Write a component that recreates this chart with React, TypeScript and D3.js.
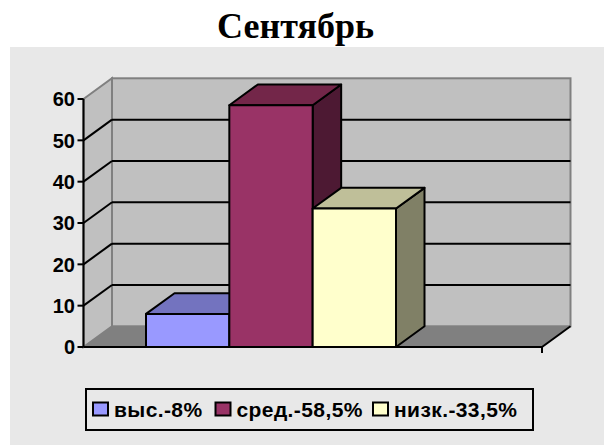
import React from 'react';
import * as d3 from 'd3';

const title = 'Сентябрь';
const series = ['выс.-8%', 'сред.-58,5%', 'низк.-33,5%'];
const values = [8, 58.5, 33.5];
const frontColors = ['#9999ff', '#993366', '#ffffcc'];
const topColors = ['#7373bf', '#732649', '#bfbf99'];
const sideColors = ['#4d4d80', '#4d1933', '#808066'];
const yTicks = [0, 10, 20, 30, 40, 50, 60];

const W = 604;
const H = 445;
// 3D depth offset of the walls / bars
const dx = 28.5;
const dy = -20.7;

const App = () => {
  const y = d3.scaleLinear().domain([0, 60]).range([347, 99]);
  const x0 = 83.5;
  const x1 = 542;
  const x = d3.scaleBand().domain(series).range([146, 396]).padding(0);

  const legendX = [93, 215.5, 373];

  return (
    <svg width={W} height={H} style={{ position: 'absolute', left: 0, top: 0 }}>
      <rect x={0} y={0} width={W} height={H} fill="#ffffff" />
      <rect x={10} y={47} width={W - 10} height={H - 47} fill="#e8e8e8" />
      <text x={295.5} y={38} textAnchor="middle" fontFamily="'Liberation Serif', 'Times New Roman', serif"
        fontWeight="bold" fontSize={36}>{title}</text>

      {/* floor */}
      <path d={`M${x0},${y(0)}L${x1},${y(0)}L${x1 + dx},${y(0) + dy}L${x0 + dx},${y(0) + dy}Z`}
        fill="#808080" stroke="#808080" />
      {/* back wall */}
      <rect x={x0 + dx} y={y(60) + dy} width={x1 - x0} height={y(0) - y(60)} fill="#c0c0c0"
        stroke="#808080" strokeWidth={2} />
      {/* side wall */}
      <path d={`M${x0},${y(60)}L${x0 + dx},${y(60) + dy}L${x0 + dx},${y(0) + dy}L${x0},${y(0)}Z`}
        fill="#c0c0c0" stroke="#808080" strokeWidth={2} />

      {/* grid lines */}
      {yTicks.filter(t => t > 0 && t < 60).map(t => (
        <g key={t} stroke="#000" strokeWidth={2}>
          <line x1={x0} y1={y(t)} x2={x0 + dx} y2={y(t) + dy} />
          <line x1={x0 + dx} y1={y(t) + dy} x2={x1 + dx} y2={y(t) + dy} />
        </g>
      ))}

      {/* bars */}
      {series.map((s, i) => {
        const bx = x(s)!;
        const bw = x.bandwidth();
        const top = y(values[i]);
        const bottom = y(0);
        return (
          <g key={s} stroke="#000" strokeWidth={2} strokeLinejoin="round">
            <path d={`M${bx + bw},${top}L${bx + bw + dx},${top + dy}L${bx + bw + dx},${bottom + dy}L${bx + bw},${bottom}Z`}
              fill={sideColors[i]} />
            <path d={`M${bx},${top}L${bx + dx},${top + dy}L${bx + bw + dx},${top + dy}L${bx + bw},${top}Z`}
              fill={topColors[i]} />
            <rect x={bx} y={top} width={bw} height={bottom - top} fill={frontColors[i]} />
          </g>
        );
      })}

      {/* axes */}
      <g stroke="#000" strokeWidth={2}>
        <line x1={x0} y1={y(60)} x2={x0} y2={y(0)} />
        <line x1={x0} y1={y(0)} x2={x1} y2={y(0)} />
        <line x1={x1} y1={y(0)} x2={x1 + dx} y2={y(0) + dy} />
        <line x1={x1} y1={y(0)} x2={x1} y2={y(0) + 6} />
        {yTicks.map(t => (
          <line key={t} x1={x0 - 6} y1={y(t)} x2={x0} y2={y(t)} />
        ))}
      </g>
      {yTicks.map(t => (
        <text key={t} x={75} y={y(t)} dy="0.36em" textAnchor="end"
          fontFamily="'Liberation Sans', Arial, sans-serif" fontWeight="bold" fontSize={20}>{t}</text>
      ))}

      {/* legend */}
      <rect x={86} y={389} width={447} height={41} fill="none" stroke="#000" strokeWidth={2} />
      {series.map((s, i) => (
        <g key={s}>
          <rect x={legendX[i]} y={402.5} width={15} height={13} fill={frontColors[i]} stroke="#000" strokeWidth={2} />
          <text x={legendX[i] + 21} y={416.5} fontFamily="'Liberation Sans', Arial, sans-serif"
            fontWeight="bold" fontSize={21} letterSpacing={0.4}>{s}</text>
        </g>
      ))}
    </svg>
  );
};

export default App;
